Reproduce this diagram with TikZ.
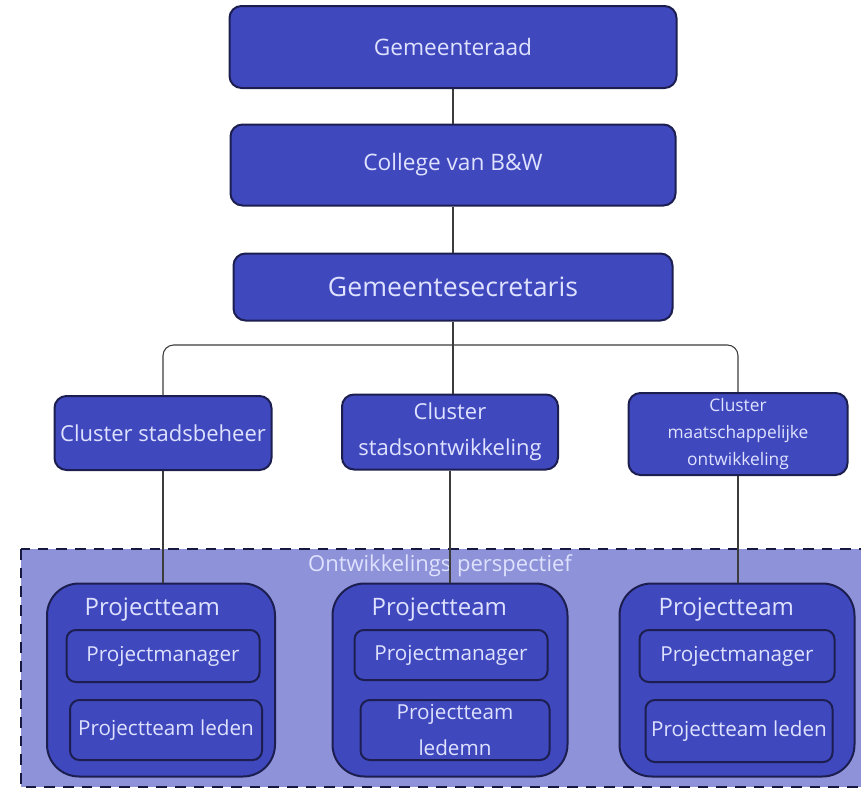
\documentclass[tikz,border=0pt]{standalone}
\usepackage{fontspec}
\setmainfont{Open Sans}
\usepackage{tikz}
\usetikzlibrary{shapes}
\usetikzlibrary{arrows}
\usetikzlibrary{calc}
\definecolor{boxblue}{RGB}{64,72,190}
\definecolor{boxedge}{RGB}{28,30,80}
\definecolor{boxtext}{RGB}{222,226,255}
\definecolor{areablue}{RGB}{142,146,216}
\definecolor{linegray}{RGB}{60,60,60}
\tikzset{node distance=2cm, auto}
\tikzset{orgbox/.style={draw=boxedge, line width=1.5pt, fill=boxblue, text=boxtext, rounded corners=9pt, align=center, inner sep=2pt}}
\tikzset{teambox/.style={orgbox, rounded corners=24pt}}
\tikzset{rolebox/.style={orgbox, rounded corners=7pt, font=\fontsize{15.5}{20}\selectfont}}
\tikzset{teamtitle/.style={text=boxtext, anchor=west, font=\fontsize{18}{22}\selectfont}}
\tikzset{conn/.style={draw=linegray, line width=0.8pt}}

\begin{document}
\begin{tikzpicture}[x=0.75pt, y=-0.75pt, font=\fontsize{17}{21}\selectfont]
\useasboundingbox (0,0) rectangle (861,789);
\filldraw[fill=areablue, draw=boxedge!80!black, line width=2pt, dash pattern=on 8pt off 6pt] (21,549) rectangle (870,787);
\node[orgbox, minimum width=447*0.75pt, minimum height=82*0.75pt] (raad) at (453,47) {Gemeenteraad};
\node[orgbox, minimum width=445*0.75pt, minimum height=81*0.75pt] (college) at (453,165) {College van B\&W};
\node[orgbox, minimum width=439*0.75pt, minimum height=67*0.75pt, font=\fontsize{20}{24}\selectfont] (secr) at (453,287) {Gemeentesecretaris};
\node[orgbox, minimum width=217*0.75pt, minimum height=74*0.75pt, font=\fontsize{16.5}{20}\selectfont] (beheer) at (163,433) {Cluster stadsbeheer};
\node[orgbox, minimum width=216*0.75pt, minimum height=75*0.75pt, font=\fontsize{16.5}{27}\selectfont] (ontw) at (450,432) {Cluster\\stadsontwikkeling};
\node[orgbox, minimum width=219*0.75pt, minimum height=82*0.75pt, font=\fontsize{13}{20.5}\selectfont] (maat) at (738,434) {Cluster\\maatschappelijke\\ontwikkeling};
\node[text=boxtext, font=\fontsize{16.5}{20}\selectfont] (area) at (440,566) {Ontwikkelings perspectief};
\node[teambox, minimum width=228*0.75pt, minimum height=193*0.75pt] (teamA) at (161,680) {};
\node[teambox, minimum width=235*0.75pt, minimum height=193*0.75pt] (teamB) at (450,680) {};
\node[teambox, minimum width=235*0.75pt, minimum height=193*0.75pt] (teamC) at (737,680) {};
\node[teamtitle] (titleA) at (80,610) {Projectteam};
\node[teamtitle] (titleB) at (367,610) {Projectteam};
\node[teamtitle] (titleC) at (654,610) {Projectteam};
\node[rolebox, minimum width=193*0.75pt, minimum height=52*0.75pt] (pmA) at (163,656) {Projectmanager};
\node[rolebox, minimum width=192*0.75pt, minimum height=60*0.75pt] (ledA) at (166,730) {Projectteam leden};
\node[rolebox, minimum width=193*0.75pt, minimum height=50*0.75pt] (pmB) at (451,655) {Projectmanager};
\node[rolebox, minimum width=189*0.75pt, minimum height=60*0.75pt, font=\fontsize{15.5}{27}\selectfont] (ledB) at (455,730) {Projectteam\\ledemn};
\node[rolebox, minimum width=195*0.75pt, minimum height=52*0.75pt] (pmC) at (737,656) {Projectmanager};
\node[rolebox, minimum width=187*0.75pt, minimum height=62*0.75pt] (ledC) at (739,731) {Projectteam leden};
\coordinate (split) at (452,345);
\draw[conn] (raad.south) -- (college.north);
\draw[conn] (college.south) -- (secr.north);
\draw[conn] (secr.south) -- (secr.south |- ontw.north);
\draw[conn, rounded corners=8pt] (beheer.north) |- (split) -| (maat.north);
\draw[conn] (beheer.south) -- (teamA.north -| beheer.south);
\draw[conn] (ontw.south) -- (teamB.north -| ontw.south);
\draw[conn] (maat.south) -- (teamC.north -| maat.south);
\end{tikzpicture}
\end{document}
